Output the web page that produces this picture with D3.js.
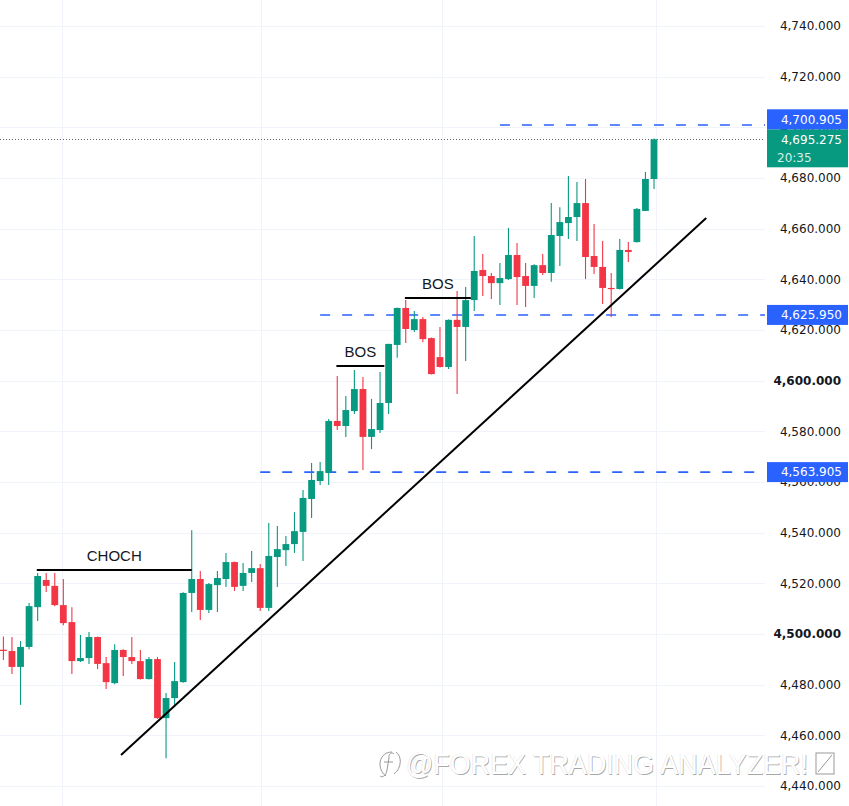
<!DOCTYPE html>
<html>
<head>
<meta charset="utf-8">
<script src="https://cdn.jsdelivr.net/npm/d3@7"></script>
<style>
html,body{margin:0;padding:0;background:#fff;}
svg{display:block;}
</style>
</head>
<body>
<div id="chart"></div>
<script>
// ---------- DATA ----------
const opens  = [4493.8,4493.3,4487.0,4494.9,4510.6,4521.3,4519.0,4511.4,4504.7,4489.3,4490.5,4498.8,4488.5,4480.6,4493.7,4490.9,4489.3,4482.2,4490.1,4466.8,4474.7,4481.0,4516.2,4521.7,4509.5,4519.3,4521.7,4528.4,4519.0,4524.1,4526.0,4510.3,4530.4,4533.1,4535.5,4540.3,4553.3,4560.4,4563.6,4584.1,4582.1,4588.0,4596.7,4577.8,4580.5,4591.2,4614.1,4628.7,4620.0,4624.3,4616.8,4609.3,4605.4,4624.0,4621.2,4631.8,4643.7,4641.3,4638.5,4640.1,4649.6,4641.3,4637.4,4645.6,4642.5,4657.1,4662.2,4664.6,4670.1,4649.2,4644.9,4636.6,4636.2,4651.6,4654.7,4667.0,4679.6];
const highs  = [4499.0,4498.8,4497.2,4512.2,4524.1,4524.1,4524.1,4521.7,4510.6,4499.6,4500.8,4499.0,4490.9,4496.0,4494.0,4498.8,4493.7,4490.9,4490.9,4476.7,4488.9,4516.5,4541.0,4524.9,4520.1,4524.9,4532.0,4528.6,4528.0,4532.8,4527.6,4543.8,4542.6,4538.7,4548.1,4556.8,4567.5,4567.9,4584.9,4601.8,4593.9,4604.2,4601.4,4592.8,4603.4,4614.6,4628.9,4631.8,4627.5,4625.1,4617.0,4621.2,4624.2,4635.4,4637.0,4657.1,4650.0,4642.5,4646.4,4660.3,4654.3,4646.4,4646.0,4650.0,4670.1,4668.5,4680.8,4678.4,4679.6,4661.8,4655.1,4642.5,4655.9,4654.7,4668.2,4682.4,4695.6];
const lows   = [4489.7,4484.2,4472.0,4494.0,4505.1,4516.6,4511.0,4503.5,4484.2,4488.9,4488.2,4486.2,4478.3,4480.2,4483.4,4488.2,4482.0,4482.0,4466.5,4451.0,4471.2,4480.8,4508.7,4505.5,4508.3,4508.7,4518.6,4517.0,4517.0,4520.5,4509.1,4509.1,4518.6,4526.8,4532.0,4528.8,4545.8,4558.8,4558.8,4580.5,4577.8,4586.8,4564.7,4573.0,4579.3,4586.8,4609.0,4614.9,4619.2,4615.2,4602.4,4605.2,4604.6,4594.7,4607.8,4627.5,4633.4,4632.2,4629.9,4639.7,4629.9,4629.1,4632.6,4641.7,4639.0,4645.3,4655.9,4655.1,4640.1,4642.1,4630.3,4625.1,4636.0,4646.8,4654.5,4667.0,4675.7];
const closes = [4493.3,4487.0,4494.9,4511.0,4522.9,4519.0,4511.4,4504.3,4489.3,4490.5,4498.8,4488.2,4481.0,4493.7,4490.9,4489.3,4482.2,4490.1,4466.8,4474.7,4481.4,4516.2,4521.7,4509.5,4519.7,4522.1,4528.4,4518.6,4524.1,4526.0,4510.3,4530.8,4533.5,4535.5,4540.6,4553.7,4560.8,4564.3,4584.1,4582.1,4588.4,4596.7,4577.8,4580.9,4591.2,4614.5,4628.7,4620.4,4624.3,4616.4,4602.6,4605.4,4624.0,4621.2,4631.8,4643.3,4641.3,4638.5,4640.5,4649.6,4640.9,4637.4,4645.6,4642.5,4657.5,4662.6,4664.6,4670.1,4648.8,4644.9,4636.6,4636.2,4651.6,4650.8,4667.8,4679.6,4695.275];

const tickValues = [4440,4460,4480,4500,4520,4540,4560,4580,4600,4620,4640,4660,4680,4700,4720,4740];
const boldTicks = [4500,4600];
const timeGridIdx = [6.9, 30.1, 51.2, 76.2];

// structure annotations: label, start index, end index, price
const structLabels = ["CHOCH","BOS","BOS"];
const structStart  = [3.9, 38.9, 46.9];
const structEnd    = [22.0, 44.5, 54.6];
const structPrice  = [4525.3, 4605.8, 4632.6];

// trend line endpoints: index, price
const trendIdx   = [13.74, 82.1];
const trendPrice = [4452.2, 4664.2];

// horizontal levels
const levelPrices = [4700.905, 4625.950, 4563.905];
const levelStartIdx = [58.0, 37.0, 30.0];
const lastPrice = 4695.275;
const countdown = "20:35";

const watermarkText = "@FOREX TRADING ANALYZER!";

// ---------- LAYOUT ----------
const W = 849, H = 806;
const plotRight = 765;
const up = "#089981", down = "#f23645", blue = "#2962ff";

const svg = d3.select("#chart").append("svg").attr("width", W).attr("height", H);

const y = d3.scaleLinear().domain([4440, 4740]).range([786, 26]);
const x = d3.scaleLinear().domain([0, 76]).range([3.4, 654]);
const bw = 6.8;
const fmt = d3.format(",.3f");

const candles = opens.map((o,i)=>({i, o, h:highs[i], l:lows[i], c:closes[i]}));

// grid
const grid = svg.append("g");
grid.selectAll("line.h").data(tickValues).join("line")
  .attr("x1",0).attr("x2",plotRight)
  .attr("y1",d=>Math.round(y(d))+0.5).attr("y2",d=>Math.round(y(d))+0.5)
  .attr("stroke","#f0f3fa").attr("stroke-width",1);
grid.selectAll("line.v").data(timeGridIdx).join("line")
  .attr("y1",0).attr("y2",H)
  .attr("x1",d=>Math.round(x(d))+0.5).attr("x2",d=>Math.round(x(d))+0.5)
  .attr("stroke","#f0f3fa").attr("stroke-width",1);

// watermark (embossed, thin)
const wm = svg.append("g");
const wmX = 406, wmY = 774;
function wmText(dx, dy, fill, stroke){
  wm.append("text").attr("x",wmX+dx).attr("y",wmY+dy)
    .attr("font-family","Liberation Sans, Arial, sans-serif").attr("font-size",29)
    .attr("textLength",402).attr("lengthAdjust","spacingAndGlyphs")
    .attr("fill",fill).attr("stroke",stroke||"none").attr("stroke-width",0.5)
    .text(watermarkText);
}
wmText(0.7, 0.7, "#a8a8a8");
wmText(-0.5, -0.5, "#e4e4e4");
wmText(0, 0, "#ffffff");
// box glyph
wm.append("rect").attr("x",816).attr("y",753).attr("width",18).attr("height",21)
  .attr("fill","none").attr("stroke","#999").attr("stroke-width",1);
wm.append("line").attr("x1",818).attr("y1",772).attr("x2",832).attr("y2",755)
  .attr("stroke","#999").attr("stroke-width",1);
// logo glyph
wm.append("path").attr("d","M392,752 C384,752 380,758 380,764 C380,770 383,774 386,776")
  .attr("fill","none").attr("stroke","#999").attr("stroke-width",1);
wm.append("path").attr("d","M396,752 C402,756 402,768 394,774")
  .attr("fill","none").attr("stroke","#999").attr("stroke-width",1);
wm.append("path").attr("d","M389,758 C388,753 393,752 394,754 M384,762 L393,762 M389,758 L387,770 C386,776 382,778 380,776")
  .attr("fill","none").attr("stroke","#999").attr("stroke-width",1);

// dotted last price line
svg.append("line").attr("x1",0).attr("x2",plotRight)
  .attr("y1",Math.round(y(lastPrice))+0.5).attr("y2",Math.round(y(lastPrice))+0.5)
  .attr("stroke","#666").attr("stroke-width",1).attr("stroke-dasharray","1,2");

// dashed levels
svg.selectAll("line.level").data(levelPrices).join("line")
  .attr("x1",(d,i)=>x(levelStartIdx[i])).attr("x2",plotRight)
  .attr("y1",d=>y(d)).attr("y2",d=>y(d))
  .attr("stroke",blue).attr("stroke-width",1.6).attr("stroke-dasharray","10,12");

// candles
const cg = svg.append("g");
cg.selectAll("line.wick").data(candles).join("line")
  .attr("x1",d=>x(d.i)).attr("x2",d=>x(d.i))
  .attr("y1",d=>y(d.h)).attr("y2",d=>y(d.l))
  .attr("stroke",d=>d.c>=d.o?up:down).attr("stroke-width",1.1);
cg.selectAll("rect.body").data(candles).join("rect")
  .attr("x",d=>x(d.i)-bw/2).attr("width",bw)
  .attr("y",d=>y(Math.max(d.o,d.c)))
  .attr("height",d=>Math.max(1.2, Math.abs(y(d.o)-y(d.c))))
  .attr("fill",d=>d.c>=d.o?up:down);

// trend line
svg.append("line")
  .attr("x1",x(trendIdx[0])).attr("y1",y(trendPrice[0]))
  .attr("x2",x(trendIdx[1])).attr("y2",y(trendPrice[1]))
  .attr("stroke","#000").attr("stroke-width",2);

// structure lines
const sg = svg.append("g");
structLabels.forEach((lab,i)=>{
  const x1 = x(structStart[i]), x2 = x(structEnd[i]), yy = y(structPrice[i]);
  sg.append("line").attr("x1",x1).attr("x2",x2).attr("y1",yy).attr("y2",yy)
    .attr("stroke","#000").attr("stroke-width",2);
  sg.append("text").attr("x",(x1+x2)/2).attr("y",yy-9)
    .attr("text-anchor","middle").attr("font-family","Liberation Sans, Arial, sans-serif")
    .attr("font-size",15).attr("fill","#131722").text(lab);
});

// price axis labels
const ax = svg.append("g");
ax.selectAll("text").data(tickValues).join("text")
  .attr("x",841).attr("y",d=>y(d)).attr("dy","0.36em")
  .attr("text-anchor","end")
  .attr("font-family","DejaVu Sans, sans-serif").attr("font-size",12)
  .attr("font-weight",d=>boldTicks.includes(d)?"bold":"normal")
  .attr("fill","#131722").text(d=>fmt(d));

// price tags
const tagX = 767, tagW = 81;
const gTop = y(lastPrice) - 10;
ax.append("rect").attr("x",tagX).attr("y",gTop).attr("width",tagW).attr("height",38).attr("fill",up);
ax.append("text").attr("x",842).attr("y",y(lastPrice)).attr("dy","0.36em").attr("text-anchor","end")
  .attr("font-family","DejaVu Sans, sans-serif").attr("font-size",12).attr("fill","#fff").text(fmt(lastPrice));
ax.append("text").attr("x",tagX+10).attr("y",y(lastPrice)+18).attr("dy","0.36em")
  .attr("font-family","DejaVu Sans, sans-serif").attr("font-size",12).attr("fill","#d2f0ea").text(countdown);

levelPrices.forEach((p,i)=>{
  let cy = y(p);
  if (i===0) cy = gTop - 10; // pushed up above the last-price tag
  ax.append("rect").attr("x",tagX).attr("y",cy-10).attr("width",tagW).attr("height",20).attr("fill",blue);
  ax.append("text").attr("x",842).attr("y",cy).attr("dy","0.36em").attr("text-anchor","end")
    .attr("font-family","DejaVu Sans, sans-serif").attr("font-size",12).attr("fill","#fff").text(fmt(p));
});
</script>
</body>
</html>
